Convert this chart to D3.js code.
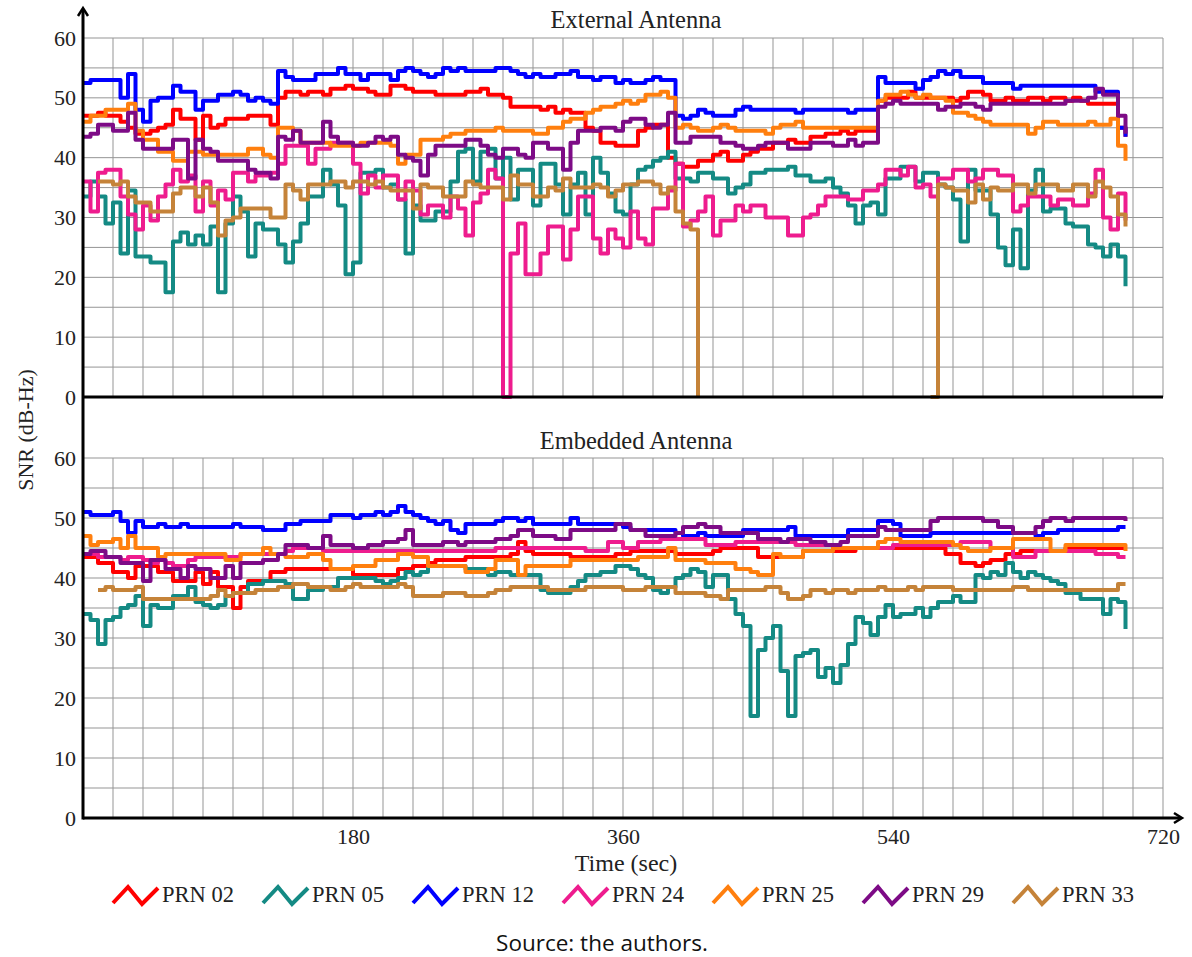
<!DOCTYPE html>
<html>
<head>
<meta charset="utf-8">
<script src="https://cdn.jsdelivr.net/npm/d3@7"></script>
<style>
	body { margin: 0; background: #fff; }
	text { font-family: "Liberation Serif", "Times New Roman", serif; fill: #222; }
	.source { font-family: "Open Sans", "Noto Sans", sans-serif; fill: #111; }
</style>
</head>
<body>
<div class="canvas"></div>
<script>

	// SAMPLE TIMES (sec), one value every 5 s
	var time = d3.range(0, 700, 5);

	var prnNames = ["PRN 02", "PRN 05", "PRN 12", "PRN 24", "PRN 25", "PRN 29", "PRN 33"];
	var prnColors = ["#ff0000", "#148a84", "#0000ff", "#ee1c8e", "#ff7f0e", "#7d0b86", "#c58339"];

	var yTicks = [0, 10, 20, 30, 40, 50, 60];
	var xTicks = [180, 360, 540, 720];

	// EXTERNAL ANTENNA

	var ext02 = [
		47,47,47.5,47,47,46,45,44,44,44.5,
		45,45.5,48,46.5,46.5,43,47,45,45.5,46.5,
		46.5,46.5,47,47,47,45.5,50,51,51,50.5,
		51,51,50.5,51.5,51.5,52,51.5,51.5,51,50.5,
		50.5,52,52,51.5,51,51,51,50.5,50.5,50.5,
		50.5,51,51,51.5,50.5,50.5,50,48.5,48.5,48.5,
		48.5,48,48.5,47.5,48,47.5,47.5,45,44.5,42.5,
		42.5,42,42,42,44.5,45,45.5,45.5,40,39,
		38.5,38.5,39.5,39.5,40.5,41,39.5,39.5,40.5,41,
		41.5,41.5,42.5,42.5,43,42.5,42.5,43.5,43.5,44,
		44,44.5,44,44.5,44.5,44.5,49.5,50,50,50,
		51,50,50,50,50,50,49.5,50,51,51,
		50.5,49.5,49.5,50,49.5,49.5,50,50,49.5,50,
		50,49.5,50,49.5,49,49,49,49,45,43.5
	];

	var ext05 = [
		33.5,36,33.5,29,32.5,24,34.5,23.5,23.5,22.5,
		22.5,17.5,26,27.5,25.5,27,25.5,28.5,17.5,29,
		33.5,31,23.5,29,28,28,25.5,22.5,26,29,
		33.5,33.5,38,35.5,32,20.5,22.5,37.5,37.5,38,
		35,35.5,33,24,32,29.5,29.5,31,31,36,
		41,41.5,36,41,41.5,36.5,40,33,38,38,
		32,39,39,35.5,30.5,35.5,37.5,30.5,40,37.5,
		34,31,30.5,35.5,38,38.5,39.5,40,41,36.5,
		36.5,36,37.5,37.5,36.5,36.5,34,35,35.5,37.5,
		37.5,38,38,38,38.5,37,37,36,36,36.5,
		35,34,32,29,32,32.5,30.5,36.5,36.5,38.5,
		38.5,36,37.5,37.5,35.5,35,33,26,38,34.5,
		34.5,30.5,25,22,28,21.5,34.5,38,31,31.5,
		31.5,29,28.5,28.5,25.5,25,23.5,25.5,23.5,18.5
	];

	var ext12 = [
		52.5,53,53,53,53,50,54,48,46,49.5,
		50,50,52,51,51,48,49.5,49.5,50.5,50.5,
		51,50.5,49.5,50,49.5,49,54.5,53.5,53,53,
		53,54,54,54,55,54,54,53,54,54,
		54,53,54.5,55,54.5,54,53.5,54,55,54.5,
		55,54.5,54.5,54.5,54.5,55,55,54.5,54,53.5,
		54,53.5,53.5,54,54,54.5,53.5,53.5,53,53.5,
		53.5,52.5,53,52.5,52.5,53,53.5,53,53,47,
		46.5,47,48,47.5,47,47,47,48,48.5,48,
		48,48,48,48,48,47.5,48,48,48,48,
		48,48,47.5,48,48,48,53.5,52.5,52.5,52.5,
		52.5,51.5,53,53.5,54.5,54,54.5,53.5,53.5,53.5,
		52.5,52.5,52.5,52.5,51.5,52,52,52,52,52,
		52,52,52,52,52,51,51,51,45,43.5
	];

	var ext24 = [
		36,31,37.5,38,38,33.5,30.5,28,32,29.5,
		33.5,35.5,38,36,37,31,36,32,34.5,33,
		37.5,37.5,36,37,37,37.5,39,42,42,42,
		39,41.5,41.5,42.5,42.5,42.5,39,34,37,35,
		37,37,33,36,34.5,30.5,32,32,30,33.5,
		31.5,27,32.5,34,38,36.5,0,24,29,20.5,
		20.5,24,28.5,28.5,23,28,33.5,33.5,26.5,24,
		28,26.5,25,31,26.5,25.5,31.5,31.5,34.5,39,
		28.5,29.5,31,33.5,27,29.5,29.5,32,31,32,
		32,30,30,30,27,27,30,30.5,32,33.5,
		33.5,33.5,33,33,34.5,34.5,35.5,38,38,37,
		38.5,35,35.5,33.5,36.5,36.5,38,38,36,36.5,
		38,38,37,37,31,32,33.5,33.5,33.5,32,
		33,33,32,32,34,38,30,28,34,29.5
	];

	var ext25 = [
		46,47,47,48,48,48,49,44.5,43,43,
		41,41,39.5,39.5,41,41,40.5,40.5,40.5,40.5,
		40.5,40.5,41.5,41.5,40.5,40,45,45,44.5,42.5,
		42.5,42.5,42.5,42,42,42,42,42.5,42.5,42.5,
		42.5,42,39,40.5,40.5,43,43,43,43.5,44,
		44,44.5,44.5,44.5,44.5,45,44.5,44.5,44.5,44.5,
		44,44,45,45,46,46.5,46.5,47.5,48,48.5,
		48.5,49,49.5,49,49.5,50.5,50.5,51,50,45,
		45.5,45,44.5,44.5,45,45.5,45,44.5,44.5,44.5,
		44.5,44,45,45.5,45.5,46,45,45,45,45,
		45,45,45,45,45,45,49.5,50.5,50.5,51,
		50.5,50,50.5,50,50,49.5,47.5,47.5,47,46.5,
		46,45.5,45.5,45.5,45.5,45.5,44,45,46,46,
		45.5,45.5,45.5,45.5,46,45.5,45.5,46.5,42,39.5
	];

	var ext29 = [
		43.5,44,45.5,45.5,44.5,44.5,47.5,43,41.5,41.5,
		41.5,41.5,43,43,36.5,43,41.5,41,39.5,39.5,
		39.5,39.5,38,37.5,37.5,36.5,43.5,43,44.5,42.5,
		42.5,42.5,46,43.5,42.5,42.5,42,42,42.5,43.5,
		43,43.5,40.5,40,39.5,37,40.5,42,42,42,
		42,43,43,42,40.5,40,41.5,41.5,40.5,40,
		42.5,42.5,41.5,41.5,38,42.5,44.5,44.5,44.5,45,
		45,44.5,46,46.5,46.5,45.5,45,45.5,47.5,42.5,
		42.5,43.5,43.5,43.5,43.5,42.5,42.5,42,41.5,41.5,
		42,42.5,42.5,42.5,41.5,41.5,41.5,42.5,42.5,42.5,
		42,42,43,42,42.5,42.5,48.5,49,49.5,49,
		49,49,49,49,48,48.5,48.5,49,49,48.5,
		48,49,49,49,49,49,49,49,49,49,
		49,49.5,49.5,49.5,50,51.5,50.5,50.5,47,44
	];

	var ext33 = [
		null,null,36,36,35.5,36,33.5,32.5,32.5,31,
		31,31,34,35,35,33.5,35,32.5,27,29.5,
		30,31.5,31.5,31.5,31.5,30,30,35.5,34.5,33,
		35.5,35.5,35.5,36,36,35,36,36,35.5,36,
		35,34.5,34.5,34.5,31.5,35.5,35,35,33.5,33.5,
		33.5,36,35.5,35,35,35,33,37,35.5,35.5,
		33.5,33.5,35,34.5,36.5,35,35,35,35.5,35,
		33.5,34.5,35.5,35.5,36,36,35.5,34,35,31,
		29,28,0,null,null,null,null,null,null,null,
		null,null,null,null,null,null,null,null,null,null,
		null,null,null,null,null,null,null,null,null,null,
		null,null,null,0,35.5,35,34.5,34.5,32.5,35.5,
		33,35,34.5,34.5,35.5,35.5,34,35.5,35.5,35.5,
		34.5,34.5,35.5,35.5,33.5,36,35,33.5,30.5,28.5
	];

	// EMBEDDED ANTENNA

	var emb02 = [
		43.5,43.5,42.5,42.5,41,41,40,42,42,42,
		41,41,39.5,39.5,39.5,41,39,41,38.5,38.5,
		35,38.5,39.5,39.5,39.5,41,41,41.5,41.5,41.5,
		41.5,41.5,41.5,41.5,41.5,41.5,40.5,40.5,40.5,40.5,
		40.5,40.5,41.5,41.5,42,42,42.5,43,43,43,
		43,43.5,43.5,43.5,43.5,43.5,43.5,44,46,44.5,
		44,44,44,44,44,43.5,43.5,43.5,43.5,43.5,
		43.5,44,44,44.5,44.5,44.5,44.5,44.5,44.5,44,
		44,44,44,44,44.5,45,45,45,45,45,
		43.5,43.5,43.5,43.5,43.5,43.5,44.5,44.5,44.5,44.5,
		44.5,44.5,44.5,45,45,45,45,45,45,45,
		45,45,45,45,45,44,44,42.5,42.5,42,
		42.5,43,43,44,44,44.5,44.5,44.5,44.5,44.5,
		44.5,45,45,45,45,45,45,45,45,45
	];

	var emb05 = [
		34,33,29,33,33.5,35,35.5,37,32,35.5,
		35,35,37,37,38.5,36,35.5,35,35.5,37,
		37.5,37.5,39,39,39.5,39.5,39.5,39,36.5,36.5,
		38,38,38.5,38.5,40,40,40,40,40,39.5,
		39,39.5,40,41,40.5,41,42,42,42,42,
		42,41.5,41.5,41.5,40.5,41,41,40.5,40.5,40.5,
		40.5,38,37.5,37.5,37.5,38.5,39.5,40.5,40.5,41,
		41,42,42,41.5,40.5,40,38,37.5,38.5,40,
		40.5,41.5,41,38.5,40.5,40.5,36.5,34,32,17,
		28,30,32,24.5,17,27,27.5,28,23.5,25,
		22.5,25.5,29,33.5,32.5,30.5,33.5,35.5,33.5,34,
		34,35,33.5,35,36,36,37,36,36,40.5,
		40,41,40.5,42.5,41,40,41,40.5,40,39.5,
		39,37.5,37.5,36.5,36.5,36.5,34,36.5,36,31.5
	];

	var emb12 = [
		51,50.5,50.5,50.5,51,49.5,47.5,49.5,48.5,48.5,
		49,48.5,48.5,49,48.5,48.5,48.5,48.5,48.5,48.5,
		49,48.5,48.5,48.5,48,48,48,49,49,49.5,
		49.5,49.5,49.5,50.5,50.5,50.5,50,50.5,50.5,51,
		50.5,51,52,51,50.5,50,49.5,49,49.5,48,
		47.5,49,49,49,49,49.5,50,50,49.5,50,
		49,49,49,49,49,50,49,49,49,49,
		49,49,48.5,48,48,48,48,48,48,47.5,
		47,47,47.5,47,47,47,47,47,48,48,
		48,48,48,48,48.5,47,47,47,47,47,
		47,47,48,48,48,48,49.5,49.5,49,47,
		47,47,47,47.5,47.5,47.5,47.5,47.5,47.5,47.5,
		47.5,47.5,47.5,47.5,47.5,47.5,47.5,47,47.5,47.5,
		48,48,48,48,48,48,48,48,48.5,48.5
	];

	var emb24 = [
		44,44,43.5,43.5,43.5,43,43.5,43.5,43,42.5,
		43,42.5,42,42,43,43.5,43.5,43.5,43.5,43.5,
		43.5,44,44,44,44,44,44,44.5,45,45,
		45,45,44.5,44.5,44.5,44.5,44.5,44.5,44.5,44.5,
		44.5,44.5,44.5,44.5,44.5,44.5,44.5,44.5,44.5,44.5,
		44.5,44.5,44.5,44.5,44.5,45,45,45,45,45,
		45,45,45,45,45,45,45,44.5,44.5,44.5,
		46,46,45,45,46,46,46,46.5,46.5,46.5,
		46.5,46.5,46.5,45.5,45.5,45.5,45.5,46,46,46,
		46,46,46,46,46,45.5,45.5,45.5,45.5,45.5,
		45,45,45,45,45,45,45,45,45.5,45.5,
		45.5,45.5,45.5,45.5,45.5,45.5,45.5,46,46,46,
		46,45,45,45,43.5,43.5,43.5,44.5,44.5,44.5,
		44.5,44.5,44.5,44.5,44.5,44,44,44,43.5,43.5
	];

	var emb25 = [
		47,45.5,46,46,46.5,45,47,45,45,45,
		43.5,44,44,44,44,44,44,44,44,43,
		43,44,44,44,45,44,44,43.5,43.5,43.5,
		44,44,43,41.5,41.5,41.5,42,42,42,43,
		43,43,44,44,43.5,43.5,42,42,42,42,
		42,41,41,41,41.5,43,43,43,40.5,42,
		42,42,42,42,42,43,43,43,43,43,
		43,43,43,43,43.5,43.5,43.5,43.5,45,43,
		43,43,43,42.5,42.5,42.5,42.5,41.5,41.5,41,
		40.5,40.5,44,43.5,43.5,43.5,44.5,44.5,44.5,44.5,
		45,45,45,45,45,45,46,46.5,46.5,46,
		46,46,46,46,46,46,45.5,45,44.5,44.5,
		44.5,45,45,45,46.5,46.5,46.5,46.5,46.5,44.5,
		44.5,45.5,45.5,45.5,45.5,45.5,45.5,45.5,45.5,44.5
	];

	var emb29 = [
		44,44.5,44.5,43.5,43.5,42.5,42.5,42.5,39.5,43,
		43,41.5,41.5,40,42,41.5,41.5,40,40,42,
		40,42.5,42.5,42.5,43,43,44,45.5,45.5,45.5,
		45,45,47,45.5,45.5,45.5,45,45,45.5,45.5,
		46,46,46.5,48,45.5,45.5,45.5,45.5,46,46,
		45.5,46,46,46,46,46.5,46.5,47,48,48,
		47,47,47,46.5,46.5,48,48,48,48,48,
		48,49,49,48,48,47,47,47,47,47.5,
		48.5,48.5,49,48.5,48.5,47.5,47.5,47.5,47.5,47.5,
		46.5,46.5,46.5,46,46.5,46.5,46.5,46,46,45.5,
		45.5,46,47,47,47,47,48.5,48,48,48,
		48,48,48,49.5,50,50,50,50,50,50,
		49.5,49.5,48.5,48.5,47.5,47.5,47.5,48.5,49.5,50,
		50,49.5,50,50,50,50,50,50,50,49.5
	];

	var emb33 = [
		null,null,38,38.5,38,38,38,38.5,36.5,36.5,
		36.5,36.5,36.5,36.5,36.5,36.5,36.5,37,38,37,
		37.5,37.5,37.5,38,38,38,38.5,38.5,39,39,
		38.5,38.5,38.5,38,38,38.5,39,38.5,38.5,38.5,
		38.5,38.5,39,38.5,37,37,37,37,37.5,37.5,
		37.5,37,37,37,37.5,38,38,38.5,38.5,38.5,
		38.5,38.5,38,38,38,38,38,38.5,38.5,38.5,
		38.5,38.5,38,38,38,38.5,38.5,38.5,38.5,37.5,
		37.5,37.5,37.5,37,37,36.5,38,38,38,38,
		38,38.5,38.5,37.5,36.5,36.5,37,38,38,37.5,
		38,38,37.5,38,38,38,38.5,38,38,38,
		38.5,38,38.5,38.5,38.5,38.5,38,38,38,38,
		38,38,38,38,38.5,38.5,38,38,38,38,
		38,38,38,38,38,38,38,38,39,39
	];

	var extSeries = [ext02, ext05, ext12, ext24, ext25, ext29, ext33];
	var embSeries = [emb02, emb05, emb12, emb24, emb25, emb29, emb33];


	var svg = d3.select(".canvas")
					.append("svg")
					.attr("width", 1192)
					.attr("height", 957);

	var x = d3.scaleLinear().domain([0, 720]).range([83, 1163]);
	var yTop = d3.scaleLinear().domain([0, 60]).range([397, 38]);
	var yBot = d3.scaleLinear().domain([0, 60]).range([818, 458]);


	function drawPanel(y, series, title, titleY){

		var panel = svg.append("g");

		// GRID
		panel.selectAll(".vgrid")
			.data(d3.range(20, 740, 20))
			.enter().append("line")
			.attr("x1", function(d){ return x(d); })
			.attr("x2", function(d){ return x(d); })
			.attr("y1", y(0))
			.attr("y2", y(60))
			.attr("stroke", "#959595")
			.attr("stroke-width", 1);

		panel.selectAll(".hgrid")
			.data(d3.range(5, 65, 5))
			.enter().append("line")
			.attr("x1", x(0))
			.attr("x2", x(720))
			.attr("y1", function(d){ return y(d); })
			.attr("y2", function(d){ return y(d); })
			.attr("stroke", "#959595")
			.attr("stroke-width", 1);

		// LINES
		var line = d3.line()
			.defined(function(d){ return d != null; })
			.x(function(d, i){ return x(time[i]); })
			.y(function(d){ return y(d); })
			.curve(d3.curveStepAfter);

		series.forEach(function(s, k){
			panel.append("path")
				.attr("d", line(s))
				.attr("fill", "none")
				.attr("stroke", prnColors[k])
				.attr("stroke-width", 4)
				.attr("stroke-linejoin", "round");
		});

		// Y TICKS
		var ax = panel.append("g")
			.attr("transform", "translate(" + x(0) + ",0)")
			.call(d3.axisLeft(y).tickValues(yTicks).tickSize(0).tickPadding(7).tickFormat(d3.format("d")));
		ax.select(".domain").remove();
		ax.attr("font-family", null).attr("font-size", null);
		ax.selectAll("text").style("font-size", "22px").attr("fill", "#222");

		// TITLE
		svg.append("text")
			.attr("x", 636)
			.attr("y", titleY)
			.attr("text-anchor", "middle")
			.style("font-size", "24.5px")
			.text(title);
	}

	drawPanel(yTop, extSeries, "External Antenna", 28);
	drawPanel(yBot, embSeries, "Embedded Antenna", 449);


	// AXIS LINES
	svg.append("line")
		.attr("x1", x(0)).attr("x2", x(0))
		.attr("y1", yBot(0) + 1.5).attr("y2", 10)
		.attr("stroke", "#000").attr("stroke-width", 3);

	svg.append("path")
		.attr("d", "M" + (x(0) - 5) + ",16 L" + x(0) + ",8 L" + (x(0) + 5) + ",16")
		.attr("fill", "none").attr("stroke", "#000").attr("stroke-width", 2.5);

	svg.append("line")
		.attr("x1", x(0)).attr("x2", x(720))
		.attr("y1", yTop(0)).attr("y2", yTop(0))
		.attr("stroke", "#000").attr("stroke-width", 3);

	svg.append("line")
		.attr("x1", x(0)).attr("x2", 1180)
		.attr("y1", yBot(0)).attr("y2", yBot(0))
		.attr("stroke", "#000").attr("stroke-width", 3);

	svg.append("path")
		.attr("d", "M1174," + (yBot(0) - 5) + " L1182," + yBot(0) + " L1174," + (yBot(0) + 5))
		.attr("fill", "none").attr("stroke", "#000").attr("stroke-width", 2.5);


	// X TICKS
	var xa = svg.append("g")
		.attr("transform", "translate(0," + yBot(0) + ")")
		.call(d3.axisBottom(x).tickValues(xTicks).tickSize(0).tickPadding(10));
	xa.select(".domain").remove();
	xa.attr("font-family", null).attr("font-size", null);
	xa.selectAll("text").style("font-size", "22px").attr("fill", "#222");


	// AXIS LABELS
	svg.append("text")
		.attr("x", 626)
		.attr("y", 871)
		.attr("text-anchor", "middle")
		.style("font-size", "24px")
		.text("Time (sec)");

	svg.append("text")
		.attr("transform", "translate(33,430) rotate(-90)")
		.attr("text-anchor", "middle")
		.style("font-size", "22px")
		.text("SNR (dB-Hz)");


	// LEGEND
	var zig = d3.line()([[0, 17], [15, 1], [29, 18], [45, 2]]);

	var legend = svg.selectAll(".legend")
		.data(prnNames)
		.enter().append("g")
		.attr("transform", function(d, i){ return "translate(" + (113 + 150 * i) + ",886)"; });

	legend.append("path")
		.attr("d", zig)
		.attr("fill", "none")
		.attr("stroke", function(d, i){ return prnColors[i]; })
		.attr("stroke-width", 4);

	legend.append("text")
		.attr("x", 49)
		.attr("y", 16)
		.style("font-size", "22.5px")
		.text(function(d){ return d; });


	// SOURCE
	svg.append("text")
		.attr("class", "source")
		.attr("x", 602)
		.attr("y", 951)
		.attr("text-anchor", "middle")
		.style("font-size", "22.5px")
		.text("Source: the authors.");

</script>
</body>
</html>
